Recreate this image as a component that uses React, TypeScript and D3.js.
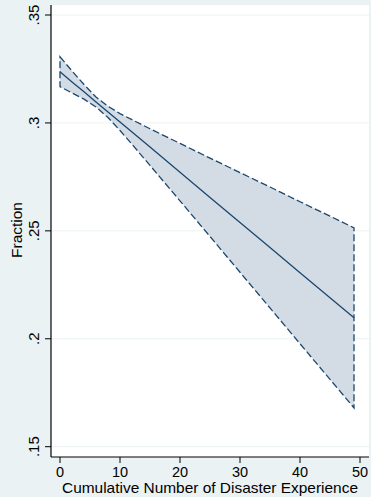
import React from "react";
import * as d3 from "d3";

const xVals = [0, 2, 4, 6, 8, 10, 12, 15, 20, 25, 30, 35, 40, 45, 49];
const fitVals = [0.3237, 0.319, 0.3144, 0.3097, 0.3051, 0.3004, 0.2958, 0.2888, 0.2772, 0.2655, 0.2539, 0.2423, 0.2306, 0.219, 0.2097];
const upperVals = [0.3306, 0.3241, 0.3178, 0.312, 0.3077, 0.3043, 0.3015, 0.2973, 0.2905, 0.2837, 0.277, 0.2703, 0.2635, 0.2568, 0.2514];
const lowerVals = [0.3168, 0.3139, 0.311, 0.3074, 0.3025, 0.2965, 0.2901, 0.2803, 0.2639, 0.2474, 0.2308, 0.2143, 0.1977, 0.1812, 0.168];
const yTicks = [0.15, 0.2, 0.25, 0.3, 0.35];
const yTickLabels = [".15", ".2", ".25", ".3", ".35"];
const xTicks = [0, 10, 20, 30, 40, 50];
const xTitle = "Cumulative Number of Disaster Experience";
const yTitle = "Fraction";

const W = 371;
const H = 497;
const BG = "#eaf2f3";
const NAVY = "#1a476f";
const FILL = "#d3dce5";
const FONT = "'Liberation Sans', Arial, sans-serif";

export default function App() {
  const plotL = 51, plotR = 369, plotT = 5, plotB = 457;
  const x = d3.scaleLinear().domain([0, 50]).range([60, 360]);
  const y = d3.scaleLinear().domain([0.15, 0.35]).range([446.7, 15]);

  const pts = xVals.map((v, i) => ({ x: v, f: fitVals[i], u: upperVals[i], l: lowerVals[i] }));
  const area = d3.area<any>().x(d => x(d.x)).y0(d => y(d.l)).y1(d => y(d.u));
  const fitLine = d3.line<any>().x(d => x(d.x)).y(d => y(d.f));
  const boundary = d3.line<[number, number]>();
  const ring: [number, number][] = [
    ...pts.map(d => [x(d.x), y(d.u)] as [number, number]),
    ...pts.slice().reverse().map(d => [x(d.x), y(d.l)] as [number, number]),
  ];

  return (
    <svg width={W} height={H} style={{ position: "absolute", left: 0, top: 0 }} fontFamily={FONT}>
      <rect x={0} y={0} width={W} height={H} fill={BG} />
      <rect x={plotL} y={plotT} width={plotR - plotL} height={plotB - plotT} fill="#ffffff" />
      {yTicks.map((t, i) => (
        <line key={"g" + i} x1={plotL} x2={plotR} y1={y(t)} y2={y(t)} stroke={BG} strokeWidth={1} />
      ))}
      <path d={area(pts) || ""} fill={FILL} stroke="none" />
      <path d={(boundary(ring) || "") + "Z"} fill="none" stroke={NAVY} strokeWidth={1.3} strokeDasharray="7,3" />
      <path d={fitLine(pts) || ""} fill="none" stroke={NAVY} strokeWidth={1.3} />
      <line x1={plotL} x2={plotL} y1={plotT} y2={plotB} stroke="#000" strokeWidth={1.2} />
      <line x1={plotL} x2={plotR} y1={plotB} y2={plotB} stroke="#000" strokeWidth={1.2} />
      {yTicks.map((t, i) => (
        <g key={"yt" + i}>
          <line x1={plotL - 6} x2={plotL} y1={y(t)} y2={y(t)} stroke="#000" strokeWidth={1} />
          <text
            transform={`translate(${38.5},${y(t)}) rotate(-90)`}
            textAnchor="middle"
            fontSize={15}
            fill="#000"
          >
            {yTickLabels[i]}
          </text>
        </g>
      ))}
      {xTicks.map((t, i) => (
        <g key={"xt" + i}>
          <line x1={x(t)} x2={x(t)} y1={plotB} y2={plotB + 6} stroke="#000" strokeWidth={1} />
          <text x={x(t)} y={476.5} textAnchor="middle" fontSize={14.5} fill="#000">
            {t}
          </text>
        </g>
      ))}
      <text x={210} y={493} textAnchor="middle" fontSize={15} textLength={296} lengthAdjust="spacingAndGlyphs" fill="#000">
        {xTitle}
      </text>
      <text transform={`translate(${21.5},${230}) rotate(-90)`} textAnchor="middle" fontSize={15.5} fill="#000">
        {yTitle}
      </text>
    </svg>
  );
}
